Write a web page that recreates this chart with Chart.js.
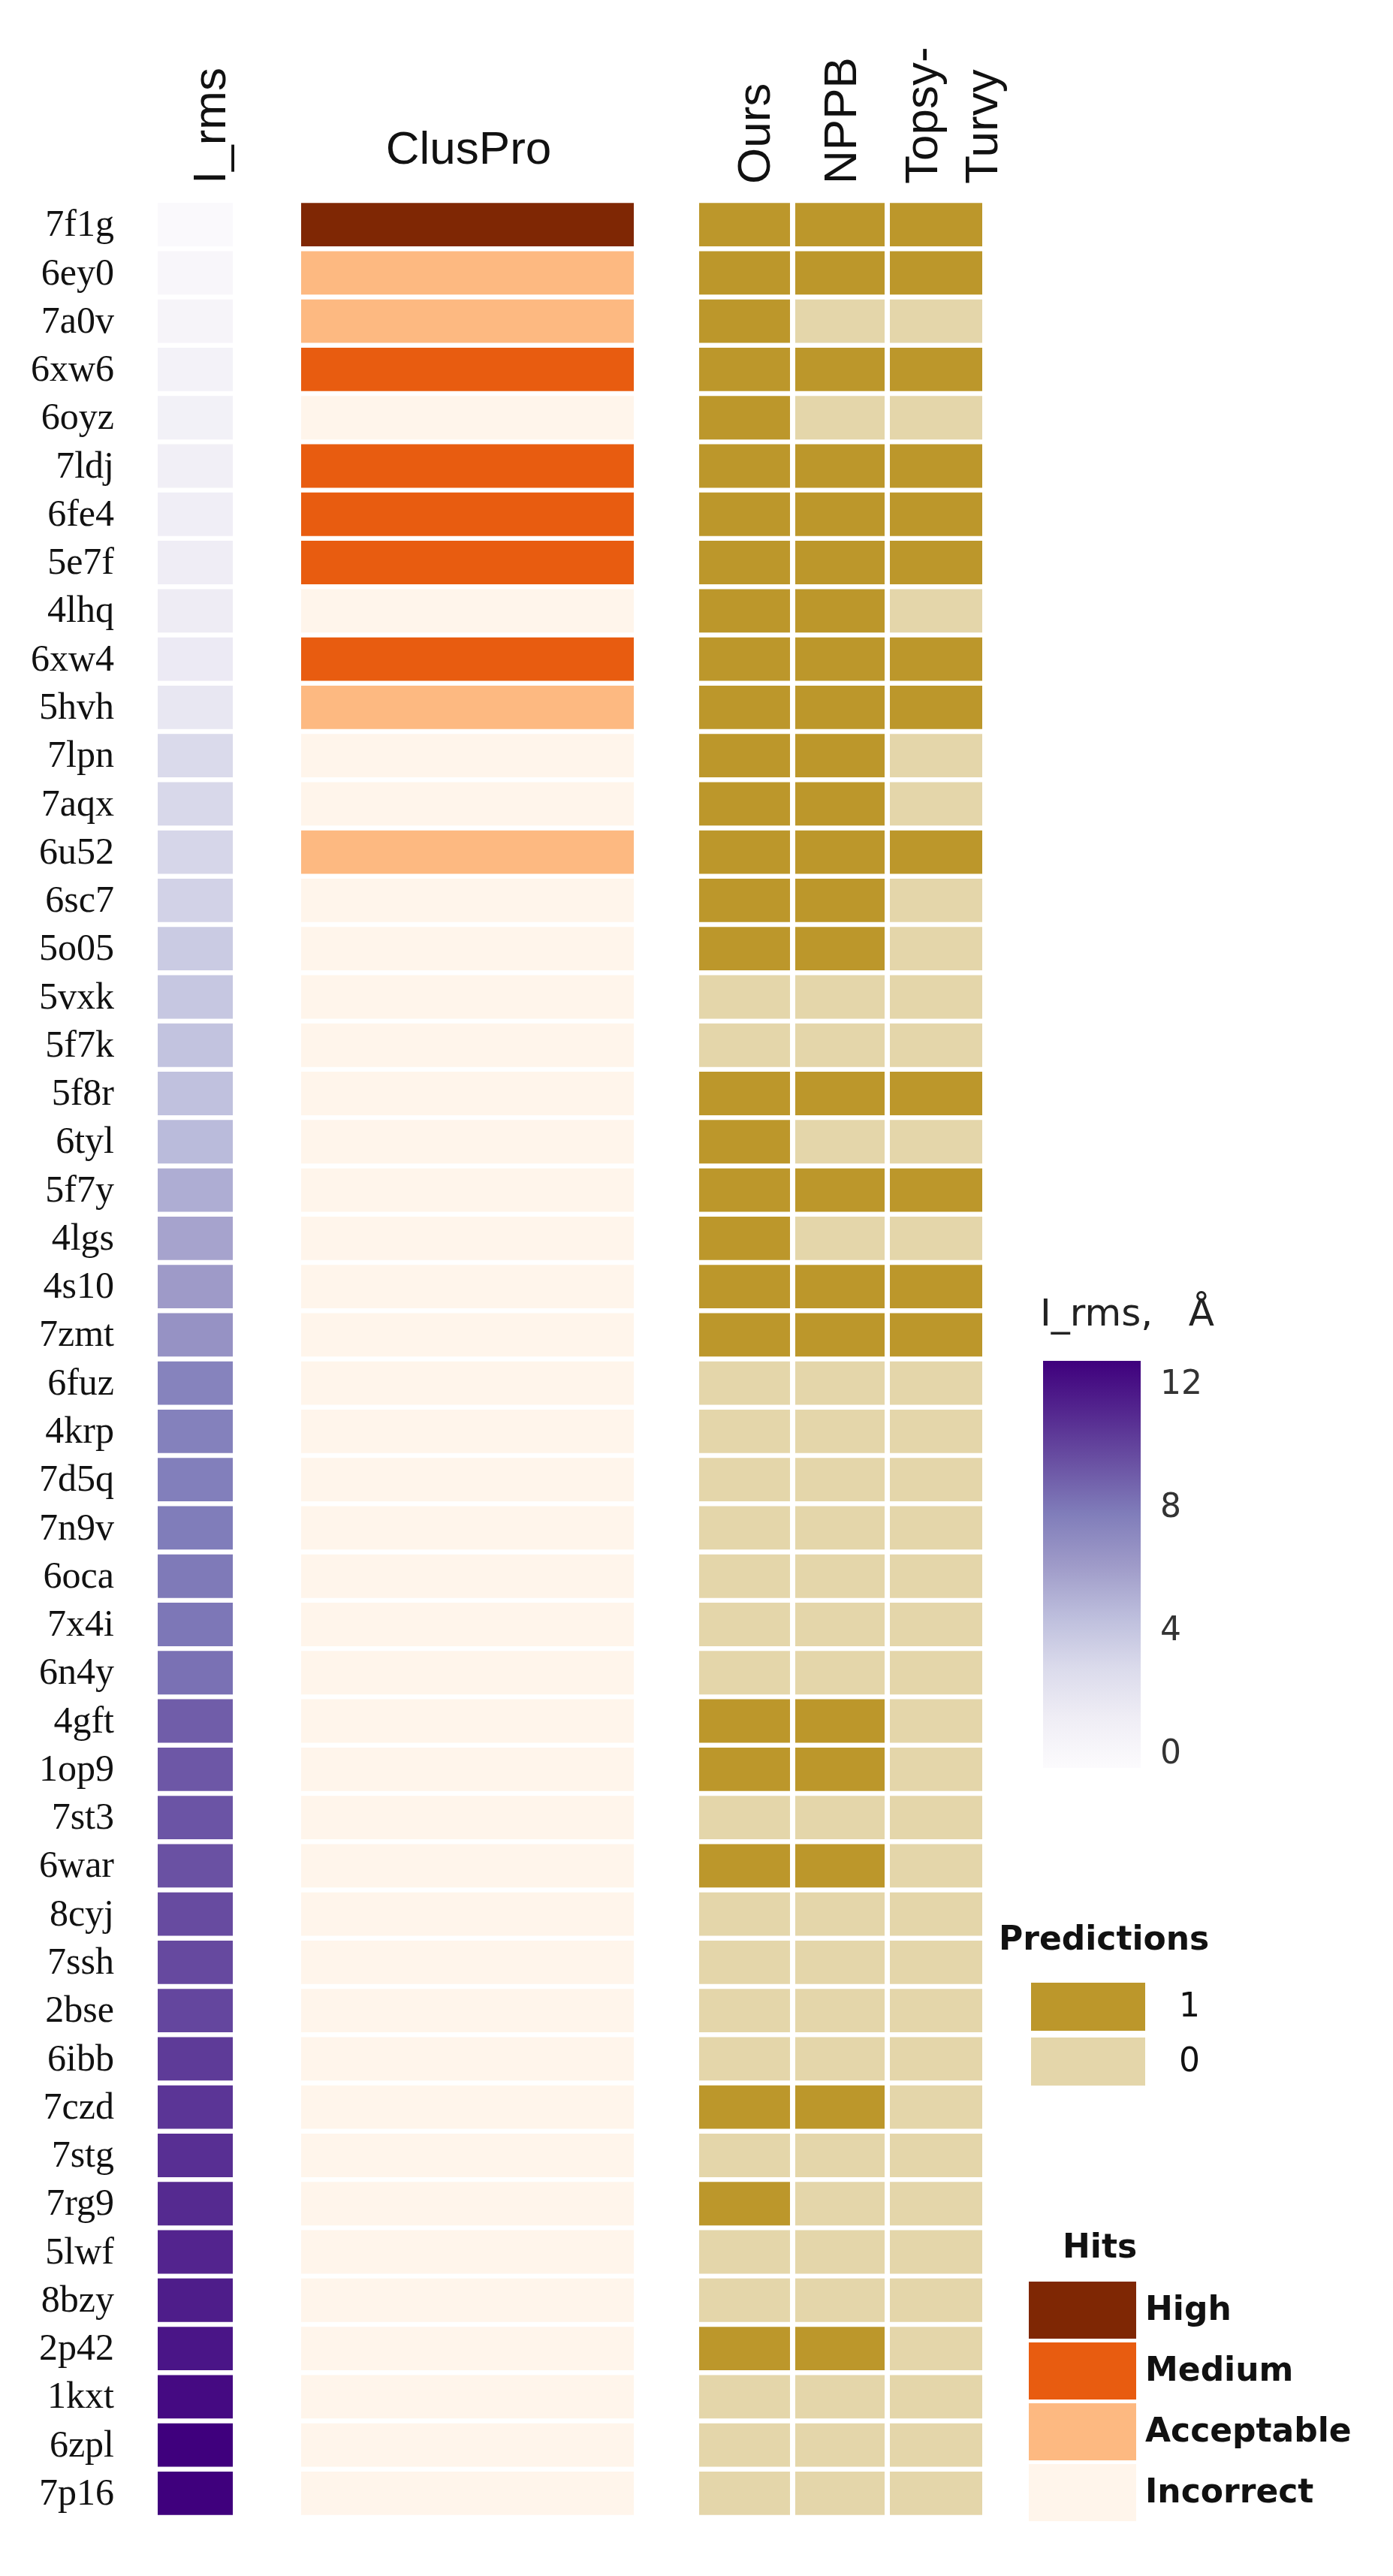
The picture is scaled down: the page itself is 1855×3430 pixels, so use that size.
<!DOCTYPE html>
<html>
<head>
<meta charset="utf-8">
<script src="https://cdn.jsdelivr.net/npm/chart.js@4.4.1/dist/chart.umd.min.js"></script>
<style>
  html, body { margin: 0; padding: 0; background: #fff; }
  #wrap { width: 1855px; height: 3430px; }
</style>
</head>
<body>
<div id="wrap"><canvas id="heat"></canvas></div>
<script>
// data
const complexes = ['7f1g','6ey0','7a0v','6xw6','6oyz','7ldj','6fe4','5e7f','4lhq','6xw4','5hvh','7lpn',
  '7aqx','6u52','6sc7','5o05','5vxk','5f7k','5f8r','6tyl','5f7y','4lgs','4s10','7zmt','6fuz','4krp',
  '7d5q','7n9v','6oca','7x4i','6n4y','4gft','1op9','7st3','6war','8cyj','7ssh','2bse','6ibb','7czd',
  '7stg','7rg9','5lwf','8bzy','2p42','1kxt','6zpl','7p16'];
const irms = [0.2,0.5,0.7,1.0,1.1,1.3,1.4,1.5,1.6,1.7,2.0,3.0,3.1,3.2,3.4,3.8,4.0,4.2,4.3,4.6,5.2,5.6,6.0,6.4,7.2,7.3,
  7.4,7.5,7.6,7.7,7.9,8.6,8.8,8.9,9.0,9.2,9.3,9.4,9.8,10.0,10.2,10.4,10.6,10.9,11.2,11.6,12.0,12.2];
const clusPro = ['High','Acceptable','Acceptable','Medium','Incorrect','Medium','Medium','Medium','Incorrect','Medium',
  'Acceptable','Incorrect','Incorrect','Acceptable'].concat(Array(34).fill('Incorrect'));
const ours  = [1,1,1,1,1,1,1,1,1,1,1,1,1,1,1,1,0,0,1,1,1,1,1,1,0,0,0,0,0,0,0,1,1,0,1,0,0,0,0,1,0,1,0,0,1,0,0,0];
const nppb  = [1,1,0,1,0,1,1,1,1,1,1,1,1,1,1,1,0,0,1,0,1,0,1,1,0,0,0,0,0,0,0,1,1,0,1,0,0,0,0,1,0,0,0,0,1,0,0,0];
const topsy = [1,1,0,1,0,1,1,1,0,1,1,0,0,1,0,0,0,0,1,0,1,0,1,1,0,0,0,0,0,0,0,0,0,0,0,0,0,0,0,0,0,0,0,0,0,0,0,0];
const hitLevels = ['High','Medium','Acceptable','Incorrect'];
const colorbarTicks = [0, 4, 8, 12];

// styles
const hitColors = { High: '#7f2704', Medium: '#e85c10', Acceptable: '#fdb981', Incorrect: '#fff5eb' };
const predColors = { 1: '#bc972b', 0: '#e4d6aa' };
const purples = ['#fcfbfd','#efedf5','#dadaeb','#bcbddc','#9e9ac8','#807dba','#6a51a3','#54278f','#3f007d'];
const IRMS_MAX = 12;

function hexToRgb(h) { return [1,3,5].map(i => parseInt(h.substr(i,2),16)); }
function purpleFor(v) {
  const t = Math.max(0, Math.min(1, v / IRMS_MAX)) * (purples.length - 1);
  const i = Math.min(Math.floor(t), purples.length - 2), f = t - i;
  const a = hexToRgb(purples[i]), b = hexToRgb(purples[i+1]);
  return 'rgb(' + a.map((c,k) => Math.round(c + (b[k]-c)*f)).join(',') + ')';
}

// column layout, in page pixels along the x scale
const cols = {
  irms:  [210, 310],
  clus:  [401, 844],
  ours:  [931, 1052],
  nppb:  [1059, 1178],
  topsy: [1185, 1308]
};

function column(span, colors) {
  return {
    data: complexes.map(c => ({ x: span, y: c })),
    backgroundColor: colors,
    borderWidth: 0,
    barPercentage: 1,
    categoryPercentage: 0.9
  };
}

const overlay = {
  id: 'overlay',
  afterDraw(chart) {
    const ctx = chart.ctx, y = chart.scales.y;
    ctx.save();
    // row labels
    ctx.fillStyle = '#111';
    ctx.font = '50px "Liberation Serif"';
    ctx.textAlign = 'right';
    ctx.textBaseline = 'middle';
    complexes.forEach(c => ctx.fillText(c, 152, y.getPixelForValue(c) + 2));

    // headers
    ctx.font = '62px "Liberation Sans"';
    ctx.textAlign = 'center';
    ctx.textBaseline = 'alphabetic';
    ctx.fillText('ClusPro', 624, 218);
    const vert = (txt, x, yb) => {
      ctx.save(); ctx.translate(x, yb); ctx.rotate(-Math.PI/2);
      ctx.textAlign = 'left'; ctx.fillText(txt, 0, 0); ctx.restore();
    };
    vert('I_rms', 300, 245);
    vert('Ours', 1025, 245);
    vert('NPPB', 1140, 245);
    vert('Topsy-', 1248, 245);
    vert('Turvy', 1328, 245);

    // colorbar
    const cbX = 1389, cbW = 130, cbTop = 1812, cbBot = 2354;
    const g = ctx.createLinearGradient(0, cbBot, 0, cbTop);
    purples.forEach((c, i) => g.addColorStop(i / (purples.length - 1), c));
    ctx.fillStyle = g;
    ctx.fillRect(cbX, cbTop, cbW, cbBot - cbTop);
    ctx.fillStyle = '#333';
    ctx.font = '44px "DejaVu Sans"';
    ctx.textAlign = 'left';
    ctx.textBaseline = 'middle';
    colorbarTicks.forEach(t => {
      const py = 2337 - (t / IRMS_MAX) * (2337 - 1845);
      ctx.fillText(String(t), 1545, py);
    });
    ctx.fillStyle = '#222';
    ctx.font = '50px "DejaVu Sans"';
    ctx.fillText('I_rms,   Å', 1385, 1752);

    // predictions legend
    ctx.font = 'bold 44px "DejaVu Sans"';
    ctx.fillStyle = '#111';
    ctx.fillText('Predictions', 1330, 2585);
    [[1, 2640], [0, 2713]].forEach(([v, py]) => {
      ctx.fillStyle = predColors[v];
      ctx.fillRect(1373, py, 152, 64);
      ctx.fillStyle = '#111';
      ctx.font = '44px "DejaVu Sans"';
      ctx.fillText(String(v), 1570, py + 34);
    });

    // hits legend
    ctx.font = 'bold 44px "DejaVu Sans"';
    ctx.fillText('Hits', 1415, 2995);
    hitLevels.forEach((h, i) => {
      const py = 3038 + i * 81;
      ctx.fillStyle = hitColors[h];
      ctx.fillRect(1370, py, 143, 76);
      ctx.fillStyle = '#111';
      ctx.font = 'bold 44px "DejaVu Sans"';
      ctx.fillText(h, 1525, py + 40);
    });
    ctx.restore();
  }
};

new Chart(document.getElementById('heat'), {
  type: 'bar',
  data: {
    labels: complexes,
    datasets: [
      column(cols.irms, irms.map(purpleFor)),
      column(cols.clus, clusPro.map(h => hitColors[h])),
      column(cols.ours, ours.map(v => predColors[v])),
      column(cols.nppb, nppb.map(v => predColors[v])),
      column(cols.topsy, topsy.map(v => predColors[v]))
    ]
  },
  options: {
    indexAxis: 'y',
    responsive: true,
    maintainAspectRatio: false,
    animation: false,
    layout: { padding: { top: 267, bottom: 78, left: 0, right: 0 } },
    plugins: { legend: { display: false }, tooltip: { enabled: false } },
    datasets: { bar: { grouped: false } },
    scales: {
      x: { type: 'linear', min: 0, max: 1855, display: false },
      y: { type: 'category', display: false, offset: true }
    }
  },
  plugins: [overlay]
});
</script>
</body>
</html>
